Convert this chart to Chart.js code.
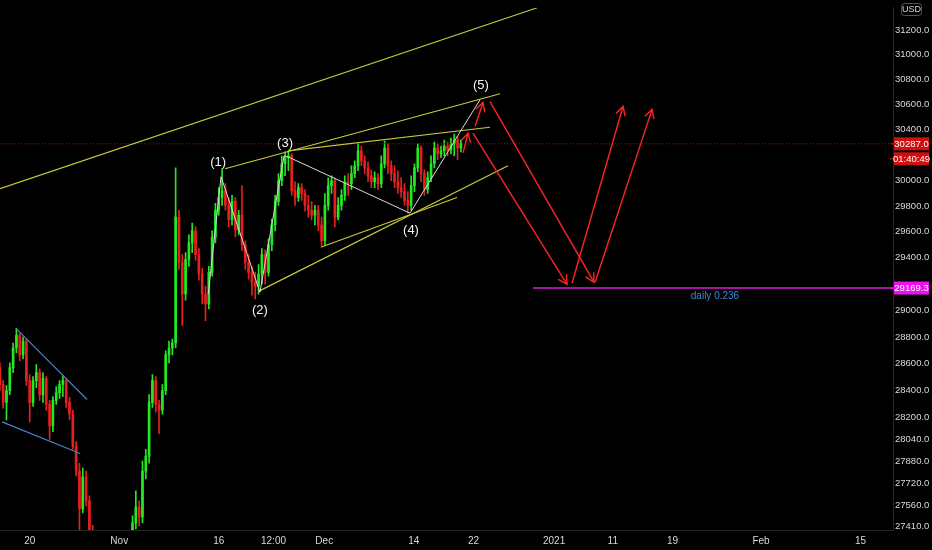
<!DOCTYPE html>
<html>
<head>
<meta charset="utf-8">
<script src="https://cdn.jsdelivr.net/npm/chart.js@4/dist/chart.umd.min.js"></script>
<style>
  html, body { margin: 0; padding: 0; background: #000; }
  #wrap { width: 932px; height: 550px; position: relative; }
</style>
</head>
<body>
<div id="wrap"><canvas id="chart"></canvas></div>
<script>
// 8h candles, 3 per trading day, first one 3 trading days before "20" (Oct 20)
const candleStartDay = -3;
const candlesPerDay = 3;
const firstOpen = 28570;

const candleCloses = [
  28445, 28312, 28400, 28570, 28717, 28812, 28665, 28769, 28474, 28312,
  28474, 28533, 28370, 28489, 28298, 28140, 28327, 28385, 28445, 28474,
  28312, 28226, 27989, 27810, 27538, 27767, 27595, 27380, 27150, 26950,
  26700, 26850, 26600, 26750, 26500, 26650, 26900, 27050, 27200, 27320,
  27437, 27552, 27480, 27810, 27918, 28312, 28474, 28298, 28255, 28400,
  28665, 28717, 28754, 29714, 29364, 29124, 29387, 29515, 29607, 29425,
  29274, 29124, 29048, 29289, 29561, 29767, 29866, 29920, 29805, 29691,
  29836, 29615, 29729, 29500, 29364, 29289, 29214, 29184, 29274, 29425,
  29289, 29500, 29653, 29836, 29997, 30130, 30177, 30192, 29920, 29866,
  29943, 29897, 29805, 29767, 29729, 29767, 29653, 29531, 29805, 29958,
  29997, 29714, 29805, 29882, 29989, 29974, 30052, 30114, 30231, 30153,
  30098, 30036, 29989, 30020, 29974, 30130, 30254, 30114, 30052, 29989,
  29943, 29912, 29843, 29805, 29958, 30098, 30254, 30052, 29928, 30020,
  30130, 30254, 30208, 30231, 30270, 30239, 30286, 30317, 30254, 30287
];
const candleHighs = [
  28606, 28474, 28437, 28606, 28754, 28864, 28827, 28798, 28783, 28518,
  28503, 28592, 28562, 28533, 28503, 28327, 28356, 28430, 28474, 28511,
  28489, 28349, 28255, 28025, 27867, 27831, 27810, 27631, 27420, 27200,
  27000, 26920, 26900, 26800, 26800, 26700, 26950, 27150, 27300, 27360,
  27487, 27667, 27595, 27882, 27968, 28370, 28518, 28503, 28327, 28445,
  28695, 28769, 28783, 30098, 29767, 29425, 29440, 29576, 29668, 29638,
  29470, 29319, 29184, 29334, 29607, 29821, 29943, 30091, 29974, 29866,
  29882, 29866, 29767, 29958, 29530, 29425, 29334, 29289, 29349, 29470,
  29462, 29546, 29699, 29882, 30052, 30192, 30224, 30231, 30208, 29989,
  29974, 29974, 29928, 29882, 29836, 29805, 29805, 29714, 29897, 30020,
  30036, 30020, 29866, 29928, 30036, 30052, 30114, 30153, 30286, 30270,
  30192, 30145, 30083, 30067, 30052, 30192, 30309, 30286, 30153, 30114,
  30075, 30020, 29974, 29912, 30036, 30130, 30286, 30270, 30083, 30067,
  30192, 30301, 30286, 30270, 30317, 30301, 30332, 30364, 30348, 30317
];
const candleLows = [
  28400, 28269, 28183, 28370, 28533, 28680, 28621, 28636, 28437, 28169,
  28283, 28422, 28327, 28312, 28255, 28040, 28097, 28298, 28341, 28356,
  28276, 28183, 27968, 27774, 27380, 27509, 27559, 27272, 27080, 26880,
  26600, 26620, 26520, 26480, 26300, 26400, 26600, 26850, 27000, 27150,
  27272, 27394, 27416, 27437, 27753, 27867, 28276, 28240, 28083, 28226,
  28370, 28606, 28665, 28717, 29312, 28886, 29078, 29334, 29440, 29380,
  29229, 29048, 28923, 29011, 29259, 29515, 29729, 29805, 29767, 29637,
  29653, 29561, 29576, 29455, 29312, 29236, 29116, 29086, 29123, 29199,
  29199, 29259, 29455, 29607, 29805, 29958, 30036, 30075, 29882, 29805,
  29836, 29844, 29760, 29714, 29691, 29653, 29607, 29477, 29500, 29767,
  29897, 29637, 29691, 29767, 29844, 29882, 29928, 30020, 30075, 30114,
  30052, 29989, 29943, 29943, 29928, 29943, 30098, 30052, 29997, 29943,
  29897, 29866, 29805, 29744, 29767, 29912, 30067, 29989, 29882, 29897,
  29989, 30098, 30161, 30177, 30192, 30192, 30208, 30192, 30161, 30223
];

// axes
const visibleDays = [-2.985, 86.76];
const visiblePrices = [27386, 31381];
const timeTickDays = [0, 9, 19, 24.5, 29.6, 38.6, 44.6, 52.7, 58.6, 64.6, 73.5, 83.5];
const timeTickLabels = ['20', 'Nov', '16', '12:00', 'Dec', '14', '22', '2021', '11', '19', 'Feb', '15'];
const priceTicks = [31200, 31000, 30800, 30600, 30400, 30000, 29800, 29600, 29400, 29000,
  28800, 28600, 28400, 28200, 28040, 27880, 27720, 27560, 27410];

// levels
const lastPrice = 30287.0;
const countdown = '01:40:49';
const fibLevel = 29169.3;
const fibStartDay = 50.58;
const fibLabel = 'daily 0.236';
const fibLabelDay = 68.87;

// drawings, [day, price]
const yellowLines = [
  [[-2.985, 29935], [51, 31381]],
  [[19.63, 30091], [47.27, 30685]],
  [[25.96, 30231], [46.26, 30418]],
  [[23.04, 29146], [48.07, 30114]],
  [[29.38, 29485], [42.95, 29866]]
];
const blueLines = [
  [[-1.38, 28864], [5.77, 28334]],
  [[-2.78, 28169], [5.06, 27938]]
];
const waveZigzag = [
  [17.94, 29123], [19.23, 30028], [23.14, 29138], [25.56, 30192],
  [26.16, 30177], [38.22, 29744], [45.26, 30638]
];
const waveLabels = ['(1)', '(2)', '(3)', '(4)', '(5)'];
const waveLabelPoints = [[18.94, 30137], [23.14, 28996], [25.66, 30293], [38.32, 29613], [45.35, 30749]];
const arrowPaths = [
  [[43.55, 30216], [44.05, 30371]],
  [[44.76, 30426], [45.56, 30615]],
  [[44.55, 30371], [54.0, 29198]],
  [[46.26, 30622], [56.71, 29214]],
  [[54.5, 29206], [59.63, 30583]],
  [[56.82, 29214], [62.55, 30560]]
];

const UP = '#22ea22';
const DOWN = '#e81f1f';
const TXT = '#d6d8de';
const FONT = "'Liberation Sans', Arial, sans-serif";

const wicks = [], bodies = [], colours = [];
candleCloses.forEach((c, i) => {
  const o = i === 0 ? firstOpen : candleCloses[i - 1];
  const day = candleStartDay + i / candlesPerDay;
  wicks.push({ x: day, y: [Math.min(candleLows[i], o, c), Math.max(candleHighs[i], o, c)] });
  bodies.push({ x: day, y: [o, c] });
  colours.push(c >= o ? UP : DOWN);
});

function arrowHead(ctx, x1, y1, x2, y2) {
  const ang = Math.atan2(y2 - y1, x2 - x1);
  const len = 10;
  ctx.beginPath();
  ctx.moveTo(x2 + len * Math.cos(ang + Math.PI - 0.5), y2 + len * Math.sin(ang + Math.PI - 0.5));
  ctx.lineTo(x2, y2);
  ctx.lineTo(x2 + len * Math.cos(ang + Math.PI + 0.5), y2 + len * Math.sin(ang + Math.PI + 0.5));
  ctx.stroke();
}

const drawings = {
  id: 'drawings',
  afterDatasetsDraw(chart) {
    const { ctx, chartArea: a, scales: { x, y } } = chart;
    const pt = p => [x.getPixelForValue(p[0]), y.getPixelForValue(p[1])];
    const seg = (p, q) => {
      const [x1, y1] = pt(p), [x2, y2] = pt(q);
      ctx.beginPath(); ctx.moveTo(x1, y1); ctx.lineTo(x2, y2); ctx.stroke();
    };

    ctx.save();
    ctx.beginPath();
    ctx.rect(a.left, a.top, a.right - a.left, a.bottom - a.top);
    ctx.clip();

    // last price dotted line
    const yl = y.getPixelForValue(lastPrice);
    ctx.strokeStyle = '#8c1c1c';
    ctx.lineWidth = 1;
    ctx.setLineDash([1, 2]);
    ctx.beginPath(); ctx.moveTo(a.left, yl); ctx.lineTo(a.right, yl); ctx.stroke();
    ctx.setLineDash([]);

    ctx.lineWidth = 1.2;
    ctx.strokeStyle = '#c8c83a';
    yellowLines.forEach(l => seg(l[0], l[1]));
    ctx.strokeStyle = '#4b82c4';
    blueLines.forEach(l => seg(l[0], l[1]));

    ctx.strokeStyle = '#d9d9d9';
    ctx.lineWidth = 1;
    ctx.beginPath();
    waveZigzag.forEach((p, i) => {
      const [px, py] = pt(p);
      if (i === 0) ctx.moveTo(px, py); else ctx.lineTo(px, py);
    });
    ctx.stroke();

    ctx.fillStyle = '#f4f4f4';
    ctx.font = "13px 'Liberation Sans', sans-serif";
    ctx.textAlign = 'center';
    ctx.textBaseline = 'middle';
    waveLabels.forEach((t, i) => {
      const [px, py] = pt(waveLabelPoints[i]);
      ctx.fillText(t, px, py);
    });

    ctx.strokeStyle = '#ff2424';
    ctx.lineWidth = 1.4;
    arrowPaths.forEach(l => {
      const [x1, y1] = pt(l[0]), [x2, y2] = pt(l[1]);
      ctx.beginPath(); ctx.moveTo(x1, y1); ctx.lineTo(x2, y2); ctx.stroke();
      arrowHead(ctx, x1, y1, x2, y2);
    });

    // fib level
    const yf = y.getPixelForValue(fibLevel);
    ctx.strokeStyle = '#a414a4';
    ctx.lineWidth = 2;
    ctx.beginPath(); ctx.moveTo(x.getPixelForValue(fibStartDay), yf); ctx.lineTo(a.right, yf); ctx.stroke();
    ctx.fillStyle = '#3c8ad8';
    ctx.font = "10px " + FONT;
    ctx.fillText(fibLabel, x.getPixelForValue(fibLabelDay), yf + 8);
    ctx.restore();

    // price axis tags
    ctx.save();
    ctx.font = "9.5px " + FONT;
    ctx.textAlign = 'center';
    ctx.textBaseline = 'middle';
    const tag = (yy, h, fill, text) => {
      ctx.fillStyle = fill;
      ctx.fillRect(a.right + 1, yy - h / 2, 35, h);
      ctx.fillRect(a.right - 3, yy - 0.5, 4, 1);
      ctx.fillStyle = '#ffffff';
      ctx.fillText(text, a.right + 18.5, yy + 0.5);
    };
    tag(yl, 13, '#d00f0f', lastPrice.toFixed(1));
    tag(yl + 15, 13, '#d00f0f', countdown);
    tag(yf, 13, '#f00ff0', fibLevel.toFixed(1));

    // currency badge
    ctx.strokeStyle = '#555';
    ctx.lineWidth = 1;
    ctx.beginPath();
    ctx.roundRect(a.right + 8.5, 3.5, 20, 12, 3);
    ctx.stroke();
    ctx.fillStyle = TXT;
    ctx.font = "9px " + FONT;
    ctx.fillText('USD', a.right + 18.5, 10);
    ctx.restore();
  }
};

new Chart(document.getElementById('chart'), {
  type: 'bar',
  data: {
    datasets: [
      { data: wicks, backgroundColor: colours, barThickness: 1, grouped: false, borderWidth: 0 },
      { data: bodies, backgroundColor: colours, barThickness: 2, grouped: false, borderWidth: 0, minBarLength: 1 }
    ]
  },
  options: {
    responsive: true,
    maintainAspectRatio: false,
    animation: false,
    layout: { padding: 0 },
    plugins: { legend: { display: false }, tooltip: { enabled: false } },
    scales: {
      x: {
        type: 'linear',
        offset: false,
        min: visibleDays[0],
        max: visibleDays[1],
        grid: { display: false, drawTicks: false, offset: false },
        border: { color: '#262626' },
        afterBuildTicks: s => { s.ticks = timeTickDays.map(v => ({ value: v })); },
        afterFit: s => { s.height = 20; },
        ticks: {
          autoSkip: false, maxRotation: 0, padding: 5, color: TXT,
          font: { family: FONT, size: 10 },
          callback: (v, i) => timeTickLabels[i]
        }
      },
      y: {
        type: 'logarithmic',
        position: 'right',
        min: visiblePrices[0],
        max: visiblePrices[1],
        grid: { display: false, drawTicks: false },
        border: { color: '#262626' },
        afterBuildTicks: s => { s.ticks = priceTicks.map(v => ({ value: v })); },
        afterFit: s => { s.width = 39; },
        ticks: {
          padding: 2, color: TXT,
          font: { family: FONT, size: 9.5 },
          callback: v => Number(v).toFixed(1)
        }
      }
    }
  },
  plugins: [drawings]
});
</script>
</body>
</html>
